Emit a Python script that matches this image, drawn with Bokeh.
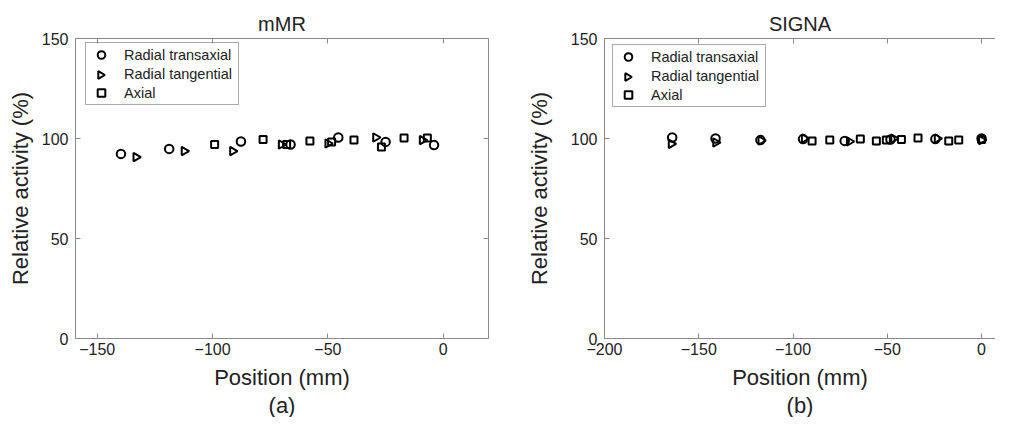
import numpy as np
from bokeh.plotting import figure
from bokeh.models import (LinearAxis, FixedTicker, Legend, LegendItem,
                          Range1d, Title, ColumnDataSource)
from bokeh.layouts import row
from bokeh.embed import file_html
from bokeh.resources import INLINE

# ---------------- data ----------------
y_ticks = [0, 50, 100, 150]

mmr_x_ticks = [-150, -100, -50, 0]
mmr_rt_x = [-139.7, -118.8, -87.7, -66.2, -45.5, -25.0, -4.0]
mmr_rt_y = [92.3, 94.8, 98.5, 97.0, 100.5, 98.3, 96.7]
mmr_tg_x = [-133.2, -112.3, -91.3, -70.2, -50.0, -29.3, -9.1]
mmr_tg_y = [90.7, 93.7, 93.7, 97.0, 97.5, 100.5, 99.2]
mmr_ax_x = [-99.1, -78.1, -67.9, -57.8, -48.4, -38.7, -26.8, -17.0, -6.9]
mmr_ax_y = [97.0, 99.5, 97.0, 98.8, 98.3, 99.2, 95.8, 100.3, 100.3]

signa_x_ticks = [-200, -150, -100, -50, 0]
signa_rt_x = [-164.1, -141.1, -117.3, -94.7, -72.6, -48.3, -24.5, 0.0]
signa_rt_y = [100.5, 100.0, 99.2, 99.7, 98.8, 99.5, 99.7, 100.0]
signa_tg_x = [-164.6, -141.0, -117.0, -94.0, -70.1, -46.6, -23.5, 0.0]
signa_tg_y = [97.3, 98.0, 99.0, 100.0, 98.5, 100.0, 100.0, 99.2]
signa_ax_x = [-89.9, -80.5, -64.3, -55.8, -50.5, -42.5, -33.7, -17.4, -12.1, 0.0]
signa_ax_y = [98.8, 99.2, 99.7, 98.8, 99.3, 99.5, 100.3, 98.8, 99.2, 99.5]

series_names = ["Radial transaxial", "Radial tangential", "Axial"]

FONT = "Liberation Sans"
TXT = "#222222"
AX = "#8a8a8a"
FRAME_H = 300
LEG_PAD = 2
LEG_GW = 26
LEG_ROW = 19


def minus(t):
    return ("\u2212" + str(abs(t))) if t < 0 else str(t)


def style_axis(ax, ticks, show_labels=True, standoff=7):
    ax.ticker = FixedTicker(ticks=ticks)
    ax.major_tick_in = 5
    ax.major_tick_out = 0
    ax.minor_tick_in = 0
    ax.minor_tick_out = 0
    ax.axis_line_color = AX
    ax.major_tick_line_color = AX
    ax.major_label_standoff = standoff
    ax.major_label_text_font = FONT
    ax.major_label_text_color = TXT
    ax.axis_label_text_font = FONT
    ax.axis_label_text_font_style = "normal"
    ax.axis_label_text_color = TXT
    ax.axis_label_text_font_size = "22px"
    if show_labels:
        ax.major_label_text_font_size = "16px"
        ax.major_label_overrides = {t: minus(t) for t in ticks}
    else:
        ax.major_label_text_font_size = "1px"
        ax.major_label_text_color = None
        ax.major_label_text_alpha = 0


def txt_title(text, size, offset, standoff, align="center"):
    t = Title(text=text, align=align, offset=offset, standoff=standoff)
    t.text_font = FONT
    t.text_font_size = size
    t.text_font_style = "normal"
    t.text_color = TXT
    return t


def make_panel(title, sub, xr, xticks, rt, tg, ax_, width, bl, br,
               ylab_standoff, box_right, legend_loc, xoff):
    p = figure(width=width, height=417, x_range=Range1d(*xr),
               y_range=Range1d(0, 150), output_backend="svg",
               toolbar_location=None, min_border_left=bl, min_border_right=br,
               min_border_top=38, min_border_bottom=79)
    p.outline_line_color = None
    p.grid.visible = False
    p.background_fill_color = "white"
    p.border_fill_color = "white"
    style_axis(p.xaxis[0], xticks, True, 4)
    style_axis(p.yaxis[0], y_ticks, True, 7)
    p.yaxis[0].axis_label = "Relative activity (%)"
    p.yaxis[0].axis_label_standoff = ylab_standoff
    top = LinearAxis()
    style_axis(top, xticks, False, 0)
    p.add_layout(top, "above")
    if box_right:
        right = LinearAxis()
        style_axis(right, y_ticks, False, 0)
        p.add_layout(right, "right")

    src_rt = ColumnDataSource(dict(x=rt[0], y=rt[1]))
    src_tg = ColumnDataSource(dict(x=tg[0], y=tg[1]))
    src_ax = ColumnDataSource(dict(x=ax_[0], y=ax_[1]))
    r1 = p.scatter("x", "y", source=src_rt, marker="circle", size=8.5,
                   line_width=2, line_color="black", fill_color=None)
    p.scatter("x", "y", source=src_tg, marker="triangle", size=8.5,
              angle=-np.pi / 2, line_width=2, line_color="black",
              fill_color=None)
    r3 = p.scatter("x", "y", source=src_ax, marker="square", size=7,
                   line_width=2, line_color="black", fill_color=None)
    # invisible stand-in for the legend row; the rotated triangle is drawn
    # separately (legend glyphs ignore marker angle)
    r2_dummy = p.scatter(x=[], y=[], marker="triangle", line_alpha=0,
                         fill_alpha=0)

    leg = Legend(items=[LegendItem(label=series_names[0], renderers=[r1], index=0),
                        LegendItem(label=series_names[1], renderers=[r2_dummy]),
                        LegendItem(label=series_names[2], renderers=[r3], index=0)],
                 location=legend_loc)
    leg.label_text_font = FONT
    leg.label_text_font_size = "14.5px"
    leg.label_text_color = TXT
    leg.glyph_width = LEG_GW
    leg.glyph_height = LEG_ROW
    leg.label_height = LEG_ROW
    leg.label_width = 112
    leg.label_standoff = 10
    leg.spacing = 0
    leg.padding = LEG_PAD
    leg.margin = 0
    leg.border_line_color = "#555555"
    leg.border_line_width = 1
    leg.background_fill_alpha = 0
    p.add_layout(leg, "center")

    # right-pointing triangle for the legend's second row
    frame_w = width - bl - br
    sx = frame_w / (xr[1] - xr[0])
    sy = FRAME_H / 150.0
    box_h = 2 * LEG_PAD + 3 * LEG_ROW
    gx_px = legend_loc[0] + LEG_PAD + LEG_GW / 2.0
    gy_px = (FRAME_H - legend_loc[1] - box_h) + LEG_PAD + 1.5 * LEG_ROW
    p.scatter(x=[xr[0] + gx_px / sx], y=[150 - gy_px / sy],
              marker="triangle", size=7.6, angle=-np.pi / 2,
              line_width=2, line_color="black", fill_color=None)

    p.add_layout(txt_title(title, "20px", xoff, 8), "above")
    p.add_layout(txt_title("Position (mm)", "22px", xoff, 10), "below")
    p.add_layout(txt_title(sub, "22px", xoff, -7), "below")
    return p


p1 = make_panel("mMR", "(a)", (-159.4, 19.6), mmr_x_ticks,
                (mmr_rt_x, mmr_rt_y), (mmr_tg_x, mmr_tg_y), (mmr_ax_x, mmr_ax_y),
                width=520, bl=75, br=32, ylab_standoff=6, box_right=True,
                legend_loc=(10, 233), xoff=0)
p2 = make_panel("SIGNA", "(b)", (-200, 7.4), signa_x_ticks,
                (signa_rt_x, signa_rt_y), (signa_tg_x, signa_tg_y),
                (signa_ax_x, signa_ax_y),
                width=475, bl=84, br=0, ylab_standoff=16, box_right=False,
                legend_loc=(8, 231), xoff=12)

layout = row(p1, p2)
open("out.html", "w").write(file_html(layout, INLINE))
